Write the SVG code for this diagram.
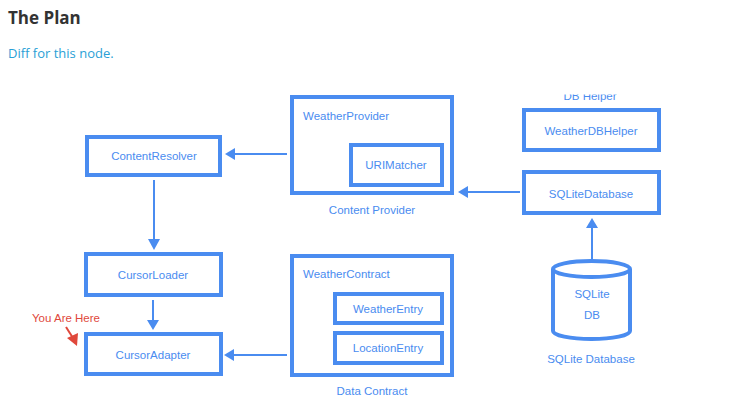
<svg xmlns="http://www.w3.org/2000/svg" width="745" height="414" viewBox="0 0 745 414">
<defs>
<style>
.box{fill:none;stroke:#4a8cf0;stroke-width:4}
.t{font-family:"Liberation Sans","DejaVu Sans",sans-serif;font-size:11.5px;fill:#4a8cf0}
.m{text-anchor:middle}
.ln{stroke:#4a8cf0;stroke-width:2;fill:none}
.hd{fill:#4a8cf0}
</style>
<clipPath id="cut"><rect x="500" y="94.5" width="200" height="20"/></clipPath>
</defs>
<rect width="745" height="414" fill="#fff"/>
<text x="8" y="24" font-family="'Open Sans','Noto Sans',sans-serif" font-size="17" font-weight="bold" fill="#333">The Plan</text>
<text x="8" y="58" font-family="'Open Sans','Noto Sans',sans-serif" font-size="13" fill="#2a9fd6">Diff for this node.</text>

<g id="content-resolver"><rect class="box" x="87" y="137" width="133" height="38"/><text class="t m" x="154" y="160">ContentResolver</text></g>
<g id="weather-provider"><rect class="box" x="292" y="97" width="160" height="96"/><text class="t" x="303" y="120">WeatherProvider</text><text class="t m" x="372" y="214">Content Provider</text></g>
<g id="uri-matcher"><rect class="box" x="351" y="145" width="91" height="40"/><text class="t m" x="396" y="169">URIMatcher</text></g>
<g id="db-helper-label"><text class="t m" x="590" y="100" clip-path="url(#cut)">DB Helper</text></g>
<g id="weather-db-helper"><rect class="box" x="524" y="110" width="135" height="40"/><text class="t m" x="591" y="135">WeatherDBHelper</text></g>
<g id="sqlite-database"><rect class="box" x="524" y="172" width="135" height="41"/><text class="t m" x="591" y="198">SQLiteDatabase</text></g>
<g id="cursor-loader"><rect class="box" x="86" y="254" width="135" height="41"/><text class="t m" x="153" y="279">CursorLoader</text></g>
<g id="cursor-adapter"><rect class="box" x="86" y="334" width="135" height="40"/><text class="t m" x="153" y="359">CursorAdapter</text></g>
<g id="weather-contract"><rect class="box" x="292" y="256" width="160" height="119"/><text class="t" x="303" y="278">WeatherContract</text><text class="t m" x="372" y="395">Data Contract</text></g>
<g id="weather-entry"><rect class="box" x="335" y="294" width="107" height="29"/><text class="t m" x="388" y="313">WeatherEntry</text></g>
<g id="location-entry"><rect class="box" x="335" y="333" width="107" height="30"/><text class="t m" x="388" y="352">LocationEntry</text></g>
<g id="sqlite-db">
<path class="box" d="M553 269 L553 331 A38.5 8 0 0 0 630 331 L630 269"/>
<ellipse class="box" cx="591.5" cy="269" rx="38.5" ry="8"/>
<text class="t m" x="592" y="298">SQLite</text><text class="t m" x="592" y="319">DB</text>
<text class="t m" x="591" y="363">SQLite Database</text>
</g>
<g id="you-are-here">
<text x="32" y="322" font-family="'Liberation Sans','DejaVu Sans',sans-serif" font-size="11.5" fill="#e0483b">You Are Here</text>
<line x1="66" y1="327" x2="73" y2="338" stroke="#e0483b" stroke-width="2"/>
<polygon points="67,338 78,333 77,346" fill="#e0483b"/>
</g>
<g id="connectors">
<line class="ln" x1="287" y1="154" x2="233" y2="154"/><polygon class="hd" points="225,154 235,148 235,160"/>
<line class="ln" x1="520" y1="192" x2="466" y2="192"/><polygon class="hd" points="458,192 468,186 468,198"/>
<line class="ln" x1="287" y1="355" x2="232" y2="355"/><polygon class="hd" points="224,355 234,349 234,361"/>
<line class="ln" x1="154" y1="180" x2="154" y2="240"/><polygon class="hd" points="154,250 148,239 160,239"/>
<line class="ln" x1="153" y1="300" x2="153" y2="321"/><polygon class="hd" points="153,330 147,320 159,320"/>
<line class="ln" x1="592" y1="259" x2="592" y2="227"/><polygon class="hd" points="592,218 586,228 598,228"/>
</g>
</svg>
